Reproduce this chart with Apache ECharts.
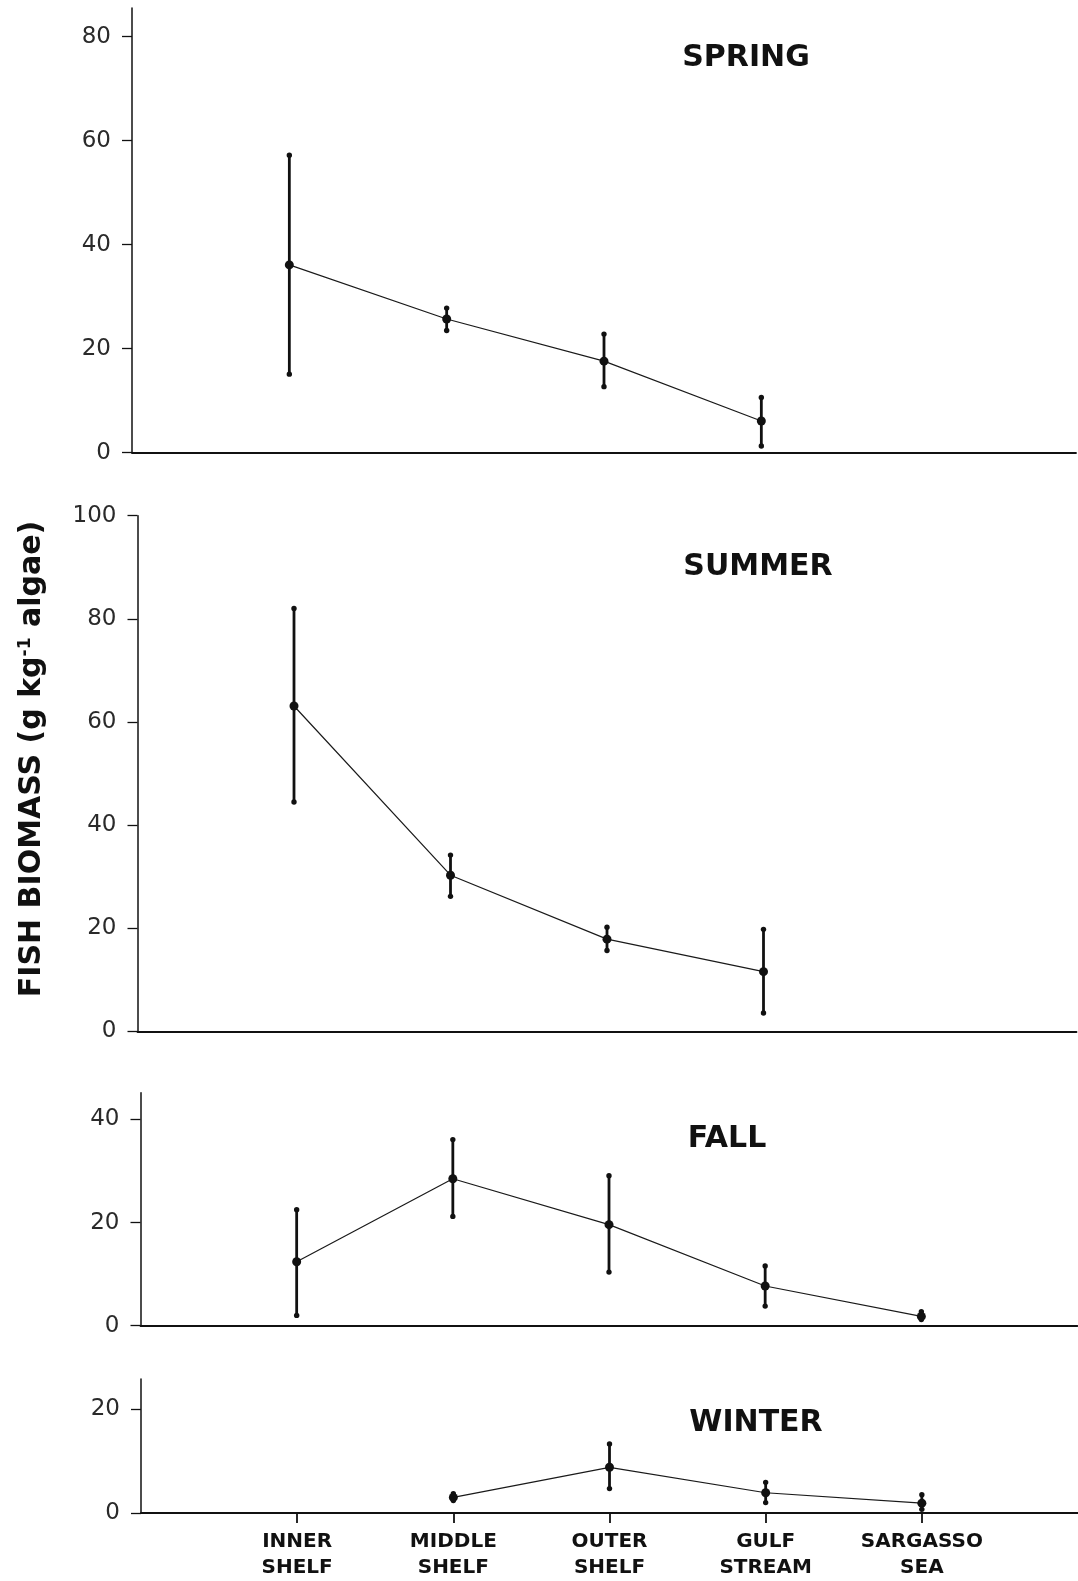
<!DOCTYPE html>
<html>
<head>
<meta charset="utf-8">
<title>Fish biomass by season</title>
<script src="https://cdn.jsdelivr.net/npm/echarts@6.0.0/dist/echarts.min.js"></script>
<style>
  html, body { margin: 0; padding: 0; background: #fff; }
  #chart { width: 1078px; height: 1581px; }
</style>
</head>
<body>
<div id="chart"></div>
<script>
// stations along the transect (x axis)
const stations = ['INNER\nSHELF', 'MIDDLE\nSHELF', 'OUTER\nSHELF', 'GULF\nSTREAM', 'SARGASSO\nSEA']

// seasons, top to bottom
const seasons = ['SPRING', 'SUMMER', 'FALL', 'WINTER']

// mean fish biomass (g kg-1 algae), null = not sampled
const springMean = [36.1, 25.7, 17.6, 6.1, null]
const springHigh = [57.2, 27.8, 22.8, 10.6, null]
const springLow = [15.1, 23.5, 12.7, 1.3, null]

const summerMean = [63.1, 30.3, 17.9, 11.6, null]
const summerHigh = [82.0, 34.2, 20.2, 19.8, null]
const summerLow = [44.5, 26.2, 15.7, 3.6, null]

const fallMean = [12.4, 28.5, 19.6, 7.7, 1.8]
const fallHigh = [22.5, 36.1, 29.1, 11.6, 2.7]
const fallLow = [2.0, 21.2, 10.4, 3.8, 1.2]

const winterMean = [null, 3.0, 8.8, 3.9, 1.9]
const winterHigh = [null, 3.7, 13.3, 5.9, 3.5]
const winterLow = [null, 2.4, 4.7, 2.0, 0.7]

// y tick labels per panel
const springTicks = [0, 20, 40, 60, 80]
const summerTicks = [0, 20, 40, 60, 80, 100]
const fallTicks = [0, 20, 40]
const winterTicks = [0, 20]

const panels = [
  { mean: springMean, high: springHigh, low: springLow, ticks: springTicks, max: 85.5 },
  { mean: summerMean, high: summerHigh, low: summerLow, ticks: summerTicks, max: 100 },
  { mean: fallMean, high: fallHigh, low: fallLow, ticks: fallTicks, max: 45.2 },
  { mean: winterMean, high: winterHigh, low: winterLow, ticks: winterTicks, max: 25.8 }
]

// layout (pixels)
const grids = [
  { left: 132, top: 8, width: 944, height: 444.7 },
  { left: 137.5, top: 515.7, width: 939, height: 515.8 },
  { left: 140.5, top: 1092.7, width: 937, height: 233 },
  { left: 141, top: 1379, width: 937, height: 134.3 }
]
const seasonLabelPos = [[746, 58.5], [758, 567], [727, 1139], [756, 1423]]

const INK = '#111'
const FONT = "'DejaVu Sans', sans-serif"
const positions = stations.map((s, i) => i + 1)

const xAxes = grids.map((g, i) => {
  const last = i === grids.length - 1
  return {
    gridIndex: i,
    type: 'value',
    min: 0,
    max: 6,
    axisLine: { show: true, onZero: false, lineStyle: { color: INK, width: 1.8 } },
    axisTick: { show: last, length: 10, customValues: positions, lineStyle: { color: INK, width: 1.8 } },
    axisLabel: {
      show: last,
      customValues: positions,
      formatter: (v) => stations[Math.round(v) - 1] || '',
      margin: 16,
      fontFamily: FONT,
      fontWeight: 'bold',
      fontSize: 20,
      lineHeight: 26,
      color: INK
    },
    splitLine: { show: false }
  }
})

const yAxes = panels.map((p, i) => ({
  gridIndex: i,
  type: 'value',
  min: 0,
  max: p.max,
  interval: 20,
  axisLine: { show: true, lineStyle: { color: INK, width: 1.5 } },
  axisTick: { show: true, length: 10, customValues: p.ticks, lineStyle: { color: INK, width: 1.3 } },
  axisLabel: {
    customValues: p.ticks,
    margin: 21,
    fontFamily: FONT,
    fontSize: 23,
    color: '#2a2a2a'
  },
  splitLine: { show: false }
}))

const series = []
panels.forEach((p, i) => {
  // error bars: vertical bar with a dot at each end
  series.push({
    type: 'custom',
    xAxisIndex: i,
    yAxisIndex: i,
    silent: true,
    z: 3,
    data: positions.map((x, k) => [x, p.low[k], p.high[k]]).filter(d => d[1] != null),
    renderItem: (params, api) => {
      const lo = api.coord([api.value(0), api.value(1)])
      const hi = api.coord([api.value(0), api.value(2)])
      return {
        type: 'group',
        children: [
          { type: 'line', shape: { x1: lo[0], y1: lo[1], x2: hi[0], y2: hi[1] }, style: { stroke: INK, lineWidth: 2.8 } },
          { type: 'circle', shape: { cx: lo[0], cy: lo[1], r: 2.7 }, style: { fill: INK } },
          { type: 'circle', shape: { cx: hi[0], cy: hi[1], r: 2.7 }, style: { fill: INK } }
        ]
      }
    }
  })
  // means joined by a thin line
  series.push({
    type: 'line',
    xAxisIndex: i,
    yAxisIndex: i,
    silent: true,
    z: 4,
    data: positions.map((x, k) => [x, p.mean[k]]).filter(d => d[1] != null),
    symbol: 'circle',
    symbolSize: 9,
    itemStyle: { color: INK },
    lineStyle: { color: '#1a1a1a', width: 1.2 }
  })
})

const graphic = seasons.map((name, i) => ({
  type: 'text',
  x: seasonLabelPos[i][0],
  y: seasonLabelPos[i][1],
  style: {
    text: name,
    align: 'center',
    verticalAlign: 'middle',
    font: 'bold 30px ' + FONT,
    fill: INK
  }
}))

// y axis title, written bottom to top
graphic.push({
  type: 'text',
  x: 32,
  y: 759,
  rotation: Math.PI / 2,
  style: {
    text: 'FISH BIOMASS (g kg{sup|-1} algae)',
    align: 'center',
    verticalAlign: 'middle',
    fontFamily: FONT,
    fontWeight: 'bold',
    fontSize: 30,
    fill: INK,
    rich: {
      sup: { fontFamily: FONT, fontWeight: 'bold', fontSize: 17, verticalAlign: 'top', fill: INK }
    }
  }
})

const chart = echarts.init(document.getElementById('chart'), null, { renderer: 'canvas' })
chart.setOption({
  animation: false,
  backgroundColor: '#fff',
  grid: grids.map(g => ({ ...g, containLabel: false })),
  xAxis: xAxes,
  yAxis: yAxes,
  series: series,
  graphic: graphic
})
</script>
</body>
</html>
